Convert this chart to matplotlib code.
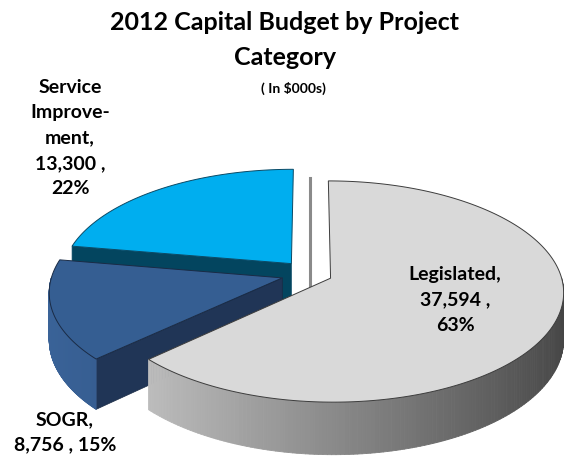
import numpy as np
import matplotlib.pyplot as plt
from matplotlib.patches import Polygon
from matplotlib.collections import PolyCollection
from matplotlib.colors import to_rgb

plt.rcParams['font.family'] = ['Lato', 'DejaVu Sans']

# budget by project category ($000s)
categories = ['Legislated', 'SOGR', 'Service\nImprove-\nment']
values = [37594, 8756, 13300]
pct_labels = ['63%', '15%', '22%']

top_colors = ['#D9D9D9', '#355E92', '#00AEEF']
rim_colors = [('#CFCFCF', '#454545'), ('#3A6398', '#22406C'), ('#00668F', '#004A68')]
cut_colors = ['#9A9A9A', '#203556', '#03455F']
edge_colors = ['#3C3C3C', '#1A2B45', '#0A4A66']
explode = [0.097, 0.125, 0.127]

# projection of the tilted pie: centre, radii, perspective and thickness (px)
CX, CY, RX, RY, K, DEPTH = 310, 274, 230, 108, 0.12, 46


def proj(x, y, z):
    s = 1.0 / (1.0 + K * y)
    return CX + RX * x * s, CY + (-RY * y + DEPTH * z) * s


def lerp(c1, c2, t):
    a, b = np.array(to_rgb(c1)), np.array(to_rgb(c2))
    return tuple(a + (b - a) * t)


fig = plt.figure(figsize=(5.64, 4.57), dpi=100)
ax = fig.add_axes([0, 0, 1, 1])
ax.set_xlim(0, 564)
ax.set_ylim(457, 0)
ax.axis('off')

# start at 12 o'clock, go clockwise
fracs = np.array(values) / sum(values)
ends = 90 - 360 * np.concatenate([[0], np.cumsum(fracs)])
slices = [(ends[i + 1], ends[i]) for i in range(len(values))]

# cut edge left where the first slice was pulled away
p0, p1 = proj(0, 1, 0), proj(0, 0, 1)
ax.plot([p0[0], p1[0]], [p0[1], p1[1]], color='#8A8A8A', lw=2.2, zorder=1)

for i in [2, 1, 0]:
    t1, t2 = slices[i]
    mid = np.radians((t1 + t2) / 2)
    ox, oy = explode[i] * np.cos(mid), explode[i] * np.sin(mid)
    th = np.radians(np.linspace(t1, t2, 240))
    xs, ys = ox + np.cos(th), oy + np.sin(th)

    # radial cut faces that turn toward the viewer
    for ang, nrm in [(t1, t1 - 90), (t2, t2 + 90)]:
        if np.sin(np.radians(nrm)) < -1e-6:
            a = np.radians(ang)
            rx, ry = ox + np.cos(a), oy + np.sin(a)
            pts = [proj(ox, oy, 0), proj(rx, ry, 0), proj(rx, ry, 1), proj(ox, oy, 1)]
            ax.add_patch(Polygon(pts, closed=True, fc=cut_colors[i], ec=edge_colors[i],
                                 lw=0.5, zorder=2))

    # outer rim, shaded left to right
    quads, cols = [], []
    for j in range(len(th) - 1):
        if np.sin((th[j] + th[j + 1]) / 2) < 0:
            q = [proj(xs[j], ys[j], 0), proj(xs[j + 1], ys[j + 1], 0),
                 proj(xs[j + 1], ys[j + 1], 1), proj(xs[j], ys[j], 1)]
            quads.append(q)
            t = (np.cos((th[j] + th[j + 1]) / 2) + 1) / 2
            cols.append(lerp(rim_colors[i][0], rim_colors[i][1], t))
    if quads:
        ax.add_collection(PolyCollection(quads, facecolors=cols, edgecolors=cols,
                                         linewidths=0.6, zorder=2))

    # top surface
    top = [proj(ox, oy, 0)] + [proj(x, y, 0) for x, y in zip(xs, ys)]
    ax.add_patch(Polygon(top, closed=True, fc=top_colors[i], ec=edge_colors[i],
                         lw=0.7, zorder=3))

# titles
ax.text(285, 40, '2012 Capital Budget by Project\nCategory', ha='center', va='center',
        fontsize=18, fontweight='bold', linespacing=1.58)
ax.text(293, 88, '( In $000s)', ha='center', va='center', fontsize=10, fontweight='bold')

# data labels: name, value, percent
label_text = [
    f'{categories[0]},\n{values[0]:,} ,\n{pct_labels[0]}',
    f'{categories[1]},\n{values[1]:,} , {pct_labels[1]}',
    f'{categories[2]},\n{values[2]:,} ,\n{pct_labels[2]}',
]
label_pos = [(455, 300), (65, 432), (70, 138)]
for txt, (lx, ly) in zip(label_text, label_pos):
    ax.text(lx, ly, txt, ha='center', va='center', fontsize=14, fontweight='bold',
            linespacing=1.6, zorder=5)

fig.savefig('out.png', dpi=100)
